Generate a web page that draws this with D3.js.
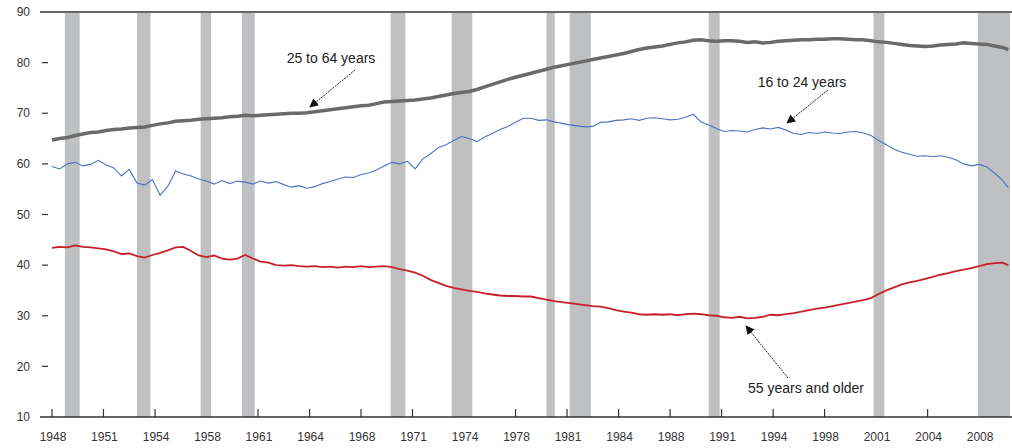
<!DOCTYPE html>
<html>
<head>
<meta charset="utf-8">
<script src="https://cdn.jsdelivr.net/npm/d3@7"></script>
<style>
  body { margin: 0; background: #fff; }
  svg { display: block; font-family: "Liberation Sans", Arial, sans-serif; }
</style>
</head>
<body>
<svg id="chart"></svg>
<script>
// half-year periods, 1948.0 .. 2009.5, plus last month shown
const periods = d3.range(1948, 2010, 0.5).concat([2009.9]);

const prime = [ // 25 to 64 years
  64.7, 65.0, 65.2, 65.6, 65.9, 66.2, 66.3, 66.6, 66.8, 66.9, 67.1, 67.2, 67.3, 67.6, 67.9, 68.1,
  68.4, 68.5, 68.6, 68.8, 68.9, 69.0, 69.1, 69.3, 69.4, 69.6, 69.5, 69.6, 69.7, 69.8, 69.9, 70.0,
  70.0, 70.1, 70.3, 70.5, 70.7, 70.9, 71.1, 71.3, 71.5, 71.6, 71.9, 72.2, 72.3, 72.4, 72.5, 72.6,
  72.8, 73.0, 73.3, 73.6, 73.9, 74.1, 74.3, 74.7, 75.2, 75.7, 76.2, 76.7, 77.1, 77.5, 77.9, 78.3,
  78.7, 79.1, 79.4, 79.7, 80.0, 80.3, 80.6, 80.9, 81.2, 81.5, 81.8, 82.2, 82.6, 82.9, 83.1, 83.3,
  83.6, 83.9, 84.1, 84.4, 84.5, 84.3, 84.2, 84.3, 84.3, 84.2, 84.0, 84.1, 83.9, 84.0, 84.2, 84.3,
  84.4, 84.5, 84.5, 84.6, 84.6, 84.7, 84.7, 84.6, 84.5, 84.5, 84.3, 84.1, 84.0, 83.8, 83.6, 83.4,
  83.3, 83.2, 83.3, 83.5, 83.6, 83.7, 83.9, 83.8, 83.7, 83.6, 83.3, 83.0, 82.6
];

const youth = [ // 16 to 24 years
  59.5, 59.0, 60.0, 60.3, 59.6, 59.9, 60.7, 59.8, 59.2, 57.6, 58.9, 56.2, 55.8, 56.9, 53.8, 55.6,
  58.6, 58.0, 57.6, 57.0, 56.6, 56.0, 56.7, 56.1, 56.6, 56.4, 56.0, 56.6, 56.2, 56.5, 55.9, 55.4,
  55.7, 55.2, 55.5, 56.1, 56.5, 57.0, 57.4, 57.3, 57.9, 58.2, 58.8, 59.6, 60.3, 60.0, 60.5, 59.0,
  61.0, 62.0, 63.2, 63.8, 64.6, 65.4, 65.0, 64.4, 65.3, 66.0, 66.8, 67.4, 68.2, 69.0, 69.0, 68.6,
  68.7, 68.3, 68.0, 67.7, 67.5, 67.3, 67.4, 68.2, 68.3, 68.6, 68.7, 68.9, 68.6, 69.0, 69.1, 68.9,
  68.7, 68.8, 69.2, 69.8, 68.3, 67.7, 67.0, 66.4, 66.6, 66.5, 66.3, 66.8, 67.1, 66.9, 67.2, 66.7,
  66.0, 65.8, 66.2, 66.0, 66.3, 66.1, 66.0, 66.3, 66.4, 66.1, 65.6, 64.6, 63.8, 62.9, 62.3, 61.9,
  61.5, 61.6, 61.4, 61.6, 61.3, 60.8, 60.0, 59.6, 59.9, 59.4, 58.2, 56.8, 55.3
];

const older = [ // 55 years and older
  43.4, 43.6, 43.5, 43.9, 43.6, 43.5, 43.3, 43.1, 42.7, 42.2, 42.3, 41.8, 41.5, 42.0, 42.4, 42.9,
  43.5, 43.6, 42.8, 41.9, 41.6, 41.9, 41.3, 41.1, 41.3, 42.0, 41.3, 40.7, 40.5, 40.0, 39.9, 40.0,
  39.8, 39.7, 39.8, 39.6, 39.7, 39.5, 39.7, 39.6, 39.8, 39.6, 39.7, 39.8, 39.6, 39.2, 38.9, 38.5,
  37.9, 37.1, 36.5, 35.9, 35.5, 35.2, 34.9, 34.7, 34.4, 34.2, 34.0, 33.9, 33.9, 33.8, 33.8, 33.5,
  33.2, 32.9, 32.7, 32.5, 32.3, 32.1, 31.9, 31.8, 31.5, 31.1, 30.8, 30.6, 30.3, 30.2, 30.3, 30.2,
  30.3, 30.1, 30.3, 30.4, 30.3, 30.1, 30.0, 29.7, 29.6, 29.8, 29.5, 29.6, 29.8, 30.2, 30.1, 30.3,
  30.5, 30.8, 31.1, 31.4, 31.6, 31.9, 32.2, 32.5, 32.8, 33.1, 33.5, 34.3, 35.0, 35.6, 36.2, 36.6,
  36.9, 37.3, 37.7, 38.1, 38.4, 38.8, 39.1, 39.4, 39.8, 40.2, 40.4, 40.5, 40.0
];

const recessionStart = [1948.83, 1953.5, 1957.62, 1960.29, 1969.92, 1973.87, 1980.0, 1981.5, 1990.5, 2001.17, 2007.92];
const recessionEnd   = [1949.79, 1954.37, 1958.29, 1961.12, 1970.87, 1975.2, 1980.54, 1982.87, 1991.21, 2001.87, 2010];

const tickYears = [1948, 1951.33, 1954.67, 1958, 1961.33, 1964.67, 1968, 1971.33, 1974.67, 1978,
  1981.33, 1984.67, 1988, 1991.33, 1994.67, 1998, 2001.33, 2004.67, 2008];
const tickLabels = ["1948", "1951", "1954", "1958", "1961", "1964", "1968", "1971", "1974", "1978",
  "1981", "1984", "1988", "1991", "1994", "1998", "2001", "2004", "2008"];
const yTicks = [10, 20, 30, 40, 50, 60, 70, 80, 90];

const width = 1012, height = 448;
const left = 40, right = 1012;

const svg = d3.select("#chart").attr("width", width).attr("height", height);

const x = d3.scaleLinear().domain([1948, 2010]).range([52, 1010]);
const y = d3.scaleLinear().domain([10, 90]).range([417, 12]);

// x ticks (drawn first so the recession bars sit over them)
svg.selectAll(".xtick")
  .data(tickYears)
  .enter()
  .append("line")
  .attr("x1", (d) => x(d)).attr("x2", (d) => x(d))
  .attr("y1", y(10)).attr("y2", y(10) - 8)
  .attr("stroke", "#333").attr("stroke-width", 1.2);

// recession bars
svg.selectAll(".recession")
  .data(recessionStart)
  .enter()
  .append("rect")
  .attr("x", (d) => x(d))
  .attr("y", y(90) + 1)
  .attr("width", (d, i) => x(recessionEnd[i]) - x(d))
  .attr("height", y(10) - y(90) - 1)
  .attr("fill", "#bfc0c2");

// frame lines
svg.append("line")
  .attr("x1", left).attr("x2", right).attr("y1", y(90)).attr("y2", y(90))
  .attr("stroke", "#333").attr("stroke-width", 1.5);
svg.append("line")
  .attr("x1", left).attr("x2", right).attr("y1", y(10)).attr("y2", y(10))
  .attr("stroke", "#333").attr("stroke-width", 1.5);

// y ticks
svg.selectAll(".ytick")
  .data(yTicks.filter((d) => d !== 10 && d !== 90))
  .enter()
  .append("line")
  .attr("x1", 42).attr("x2", 48)
  .attr("y1", (d) => y(d)).attr("y2", (d) => y(d))
  .attr("stroke", "#333").attr("stroke-width", 1.2);

svg.selectAll(".ylabel")
  .data(yTicks)
  .enter()
  .append("text")
  .attr("x", 30)
  .attr("y", (d) => y(d))
  .attr("dy", "0.35em")
  .attr("text-anchor", "end")
  .attr("font-size", "12px")
  .attr("fill", "#333")
  .text((d) => d);

svg.selectAll(".xlabel")
  .data(tickYears)
  .enter()
  .append("text")
  .attr("x", (d) => x(d) + 1)
  .attr("y", 441)
  .attr("text-anchor", "middle")
  .attr("font-size", "12px")
  .attr("fill", "#333")
  .text((d, i) => tickLabels[i]);

// series lines
const line = (vals) => d3.line()
  .x((d, i) => x(periods[i]))
  .y((d) => y(d))(vals);

svg.append("path").attr("d", line(older))
  .attr("fill", "none").attr("stroke", "#c8202b").attr("stroke-width", 1.8);
svg.append("path").attr("d", line(youth))
  .attr("fill", "none").attr("stroke", "#4a72c2").attr("stroke-width", 1.1);
svg.append("path").attr("d", line(prime))
  .attr("fill", "none").attr("stroke", "#6a6a6a").attr("stroke-width", 3.5);

// annotations
svg.append("defs").append("marker")
  .attr("id", "arrow")
  .attr("viewBox", "0 0 10 10")
  .attr("refX", 9).attr("refY", 5)
  .attr("markerWidth", 9).attr("markerHeight", 9)
  .attr("markerUnits", "userSpaceOnUse")
  .attr("orient", "auto")
  .append("path")
  .attr("d", "M0,0 L10,5 L0,10 z")
  .attr("fill", "#111");

const notes = [
  { text: "25 to 64 years", tx: 331, ty: 63, x1: 355, y1: 70, x2: 310, y2: 107 },
  { text: "16 to 24 years", tx: 802, ty: 87, x1: 828, y1: 90, x2: 787, y2: 123 },
  { text: "55 years and older", tx: 806, ty: 393, x1: 788, y1: 378, x2: 746, y2: 326 }
];

notes.forEach((n) => {
  svg.append("text")
    .attr("x", n.tx).attr("y", n.ty)
    .attr("text-anchor", "middle")
    .attr("font-size", "14px")
    .attr("fill", "#222")
    .text(n.text);
  svg.append("line")
    .attr("x1", n.x1).attr("y1", n.y1).attr("x2", n.x2).attr("y2", n.y2)
    .attr("stroke", "#222").attr("stroke-width", 1)
    .attr("stroke-dasharray", "2,1")
    .attr("marker-end", "url(#arrow)");
});
</script>
</body>
</html>
